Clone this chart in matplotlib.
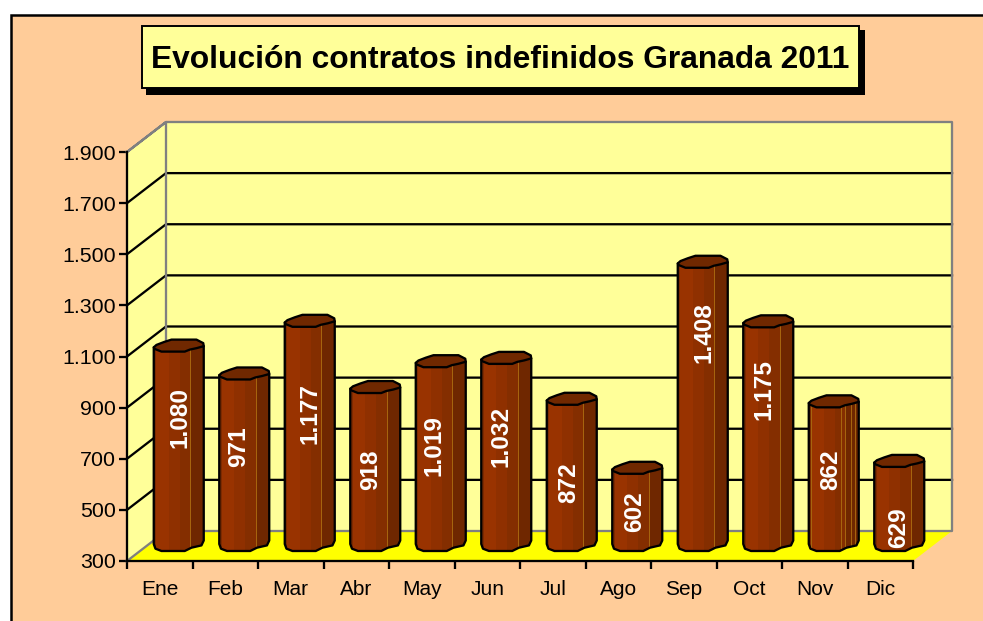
import matplotlib
matplotlib.use("Agg")
import matplotlib.pyplot as plt
from matplotlib.patches import Rectangle

plt.rcParams['font.family'] = ['Liberation Sans', 'DejaVu Sans']

months = ["Ene", "Feb", "Mar", "Abr", "May", "Jun", "Jul", "Ago", "Sep", "Oct", "Nov", "Dic"]
contracts = [1080, 971, 1177, 918, 1019, 1032, 872, 602, 1408, 1175, 862, 629]
value_labels = ["1.080", "971", "1.177", "918", "1.019", "1.032", "872", "602", "1.408", "1.175", "862", "629"]
y_ticks = [300, 500, 700, 900, 1100, 1300, 1500, 1700, 1900]
y_tick_labels = ["300", "500", "700", "900", "1.100", "1.300", "1.500", "1.700", "1.900"]
title = "Evolución contratos indefinidos Granada 2011"

# where the white labels sit in the picture, pixels
label_dx = [1, -6, 0, -5, -7, -5, -3, -3, 1, -4, -3, -1]
label_y = [417, 447, 414, 470, 446, 436, 483, 512, 333, 390, 470, 528]

W, H = 983, 621
BG = "#ffcc99"
WALL = "#ffff99"
FLOOR = "#ffff00"
GREY = "#808080"
DEPTH_X, DEPTH_Y = 39, 30
LW = 1.65

fig = plt.figure(figsize=(W / 100, H / 100), dpi=100, facecolor="white")


def fig_rect(x0, y0, x1, y1, **kw):
    r = Rectangle((x0 / W, 1 - y1 / H), (x1 - x0) / W, (y1 - y0) / H, transform=fig.transFigure, **kw)
    fig.add_artist(r)
    return r


# background and title box
fig_rect(11, 15, W + 10, H + 10, facecolor=BG, edgecolor="black", lw=1.8, zorder=-5)
fig_rect(146, 30, 865, 95, facecolor="black", edgecolor="none", zorder=-4)
fig_rect(142, 26, 859, 88, facecolor=WALL, edgecolor="black", lw=1.4, zorder=-3)
fig.text(500.5 / W, 1 - 60 / H, title, ha="center", va="center", fontsize=22.9, fontweight="bold", color="black")

ax = fig.add_axes([127 / W, 1 - 561 / H, 786 / W, 409 / H])
ax.set_xlim(0, 12)
ax.set_ylim(300, 1900)
ax.patch.set_visible(False)
PX_X = 786 / 12
PX_Y = 409 / 1600


def dx(px):
    return px / PX_X


def dy(px):
    return px / PX_Y


# walls and floor
ax.fill([0, dx(DEPTH_X), dx(DEPTH_X), 0], [300, 300 + dy(DEPTH_Y), 1900 + dy(DEPTH_Y), 1900],
        facecolor=WALL, edgecolor="none", clip_on=False, zorder=1)
ax.fill([dx(DEPTH_X), 12 + dx(DEPTH_X), 12 + dx(DEPTH_X), dx(DEPTH_X)],
        [300 + dy(DEPTH_Y), 300 + dy(DEPTH_Y), 1900 + dy(DEPTH_Y), 1900 + dy(DEPTH_Y)],
        facecolor=WALL, edgecolor="none", clip_on=False, zorder=1)
ax.fill([0, 12, 12 + dx(DEPTH_X), dx(DEPTH_X)], [300, 300, 300 + dy(DEPTH_Y), 300 + dy(DEPTH_Y)],
        facecolor=FLOOR, edgecolor="none", clip_on=False, zorder=1)

# gridlines
for t in y_ticks[1:-1]:
    ax.plot([0, dx(DEPTH_X), 12 + dx(DEPTH_X)], [t, t + dy(DEPTH_Y), t + dy(DEPTH_Y)],
            color="black", lw=LW, clip_on=False, zorder=2)

# grey wall edges
ax.plot([0, dx(DEPTH_X), 12 + dx(DEPTH_X), 12 + dx(DEPTH_X), dx(DEPTH_X), dx(DEPTH_X), 0],
        [1900, 1900 + dy(DEPTH_Y), 1900 + dy(DEPTH_Y), 300 + dy(DEPTH_Y), 300 + dy(DEPTH_Y), 1900 + dy(DEPTH_Y), 1900],
        color=GREY, lw=LW, clip_on=False, zorder=2)
ax.plot([0, dx(DEPTH_X)], [300, 300 + dy(DEPTH_Y)], color=GREY, lw=LW, clip_on=False, zorder=2)

# outline of one column, pixels from its left edge and from its base / top
bottom_shape = [(0, 7), (1.7, 2.3), (7.7, 0), (31, 0), (37.7, 3.3), (47.7, 5.6), (50, 10.5)]
top_shape = [(0, 4.3), (2.7, 6.7), (10, 9.5), (17.7, 12), (42.7, 12), (49.5, 8.5), (50, 5.5), (43, 3.5), (36, 2), (31, 0), (7.7, 0), (1, 2.7)]
strips = [(0, 2.5, "#7d2a00"), (2.5, 15, "#993300"), (15, 26, "#8f3000"), (26, 36.5, "#842e00"), (36.5, 51, "#6f2700")]
seams = {10: [2, 32, 36.5, 42, 46]}

for i, v in enumerate(contracts):
    left = i + 0.5 + dx(19 - 25)
    base = 300 + dy(DEPTH_Y / 3)
    top = v + dy(DEPTH_Y / 3)

    xs = [left + dx(p[0]) for p in bottom_shape] + [left + dx(50), left + dx(0)]
    ys = [base + dy(p[1]) for p in bottom_shape] + [top + dy(5.5), top + dy(4.3)]
    body = ax.fill(xs, ys, facecolor="#8f3000", edgecolor="none", clip_on=False, zorder=3)[0]

    for s0, s1, c in strips:
        strip = ax.fill([left + dx(s0), left + dx(s1), left + dx(s1), left + dx(s0)], [base, base, top + dy(14), top + dy(14)],
                        facecolor=c, edgecolor="none", zorder=3.1)[0]
        strip.set_clip_box(None)
        strip.set_clip_path(body)

    for s in seams.get(i, [36.5]):
        seam = ax.plot([left + dx(s), left + dx(s)], [base, top + dy(5)], color="#a8660f", lw=0.7, zorder=3.2)[0]
        seam.set_clip_box(None)
        seam.set_clip_path(body)

    ax.fill(xs, ys, facecolor="none", edgecolor="black", lw=LW, clip_on=False, zorder=3.3, joinstyle="round")
    ax.fill([left + dx(p[0]) for p in top_shape], [top + dy(p[1]) for p in top_shape],
            facecolor="#702800", edgecolor="black", lw=LW, clip_on=False, zorder=3.4, joinstyle="round")

    ax.text(i + 0.5 + dx(19 + label_dx[i]), 300 + dy(561 - label_y[i]), value_labels[i], rotation=90,
            ha="center", va="center", color="white", fontsize=17.6, fontweight="bold", zorder=4, clip_on=False)

# axes
for side in ["top", "right"]:
    ax.spines[side].set_visible(False)
for side in ["left", "bottom"]:
    ax.spines[side].set_linewidth(LW)
    ax.spines[side].set_zorder(5)
ax.set_yticks(y_ticks, y_tick_labels)
ax.set_xticks(range(13), [""] * 13)
ax.set_xticks([i + 0.5 for i in range(12)], months, minor=True)
ax.tick_params(axis="both", which="major", length=5.8, width=LW, color="black", labelsize=15.4, pad=2)
ax.tick_params(axis="x", which="minor", length=0, labelsize=15, pad=14)

fig.savefig("out.png", dpi=100, facecolor="white")
